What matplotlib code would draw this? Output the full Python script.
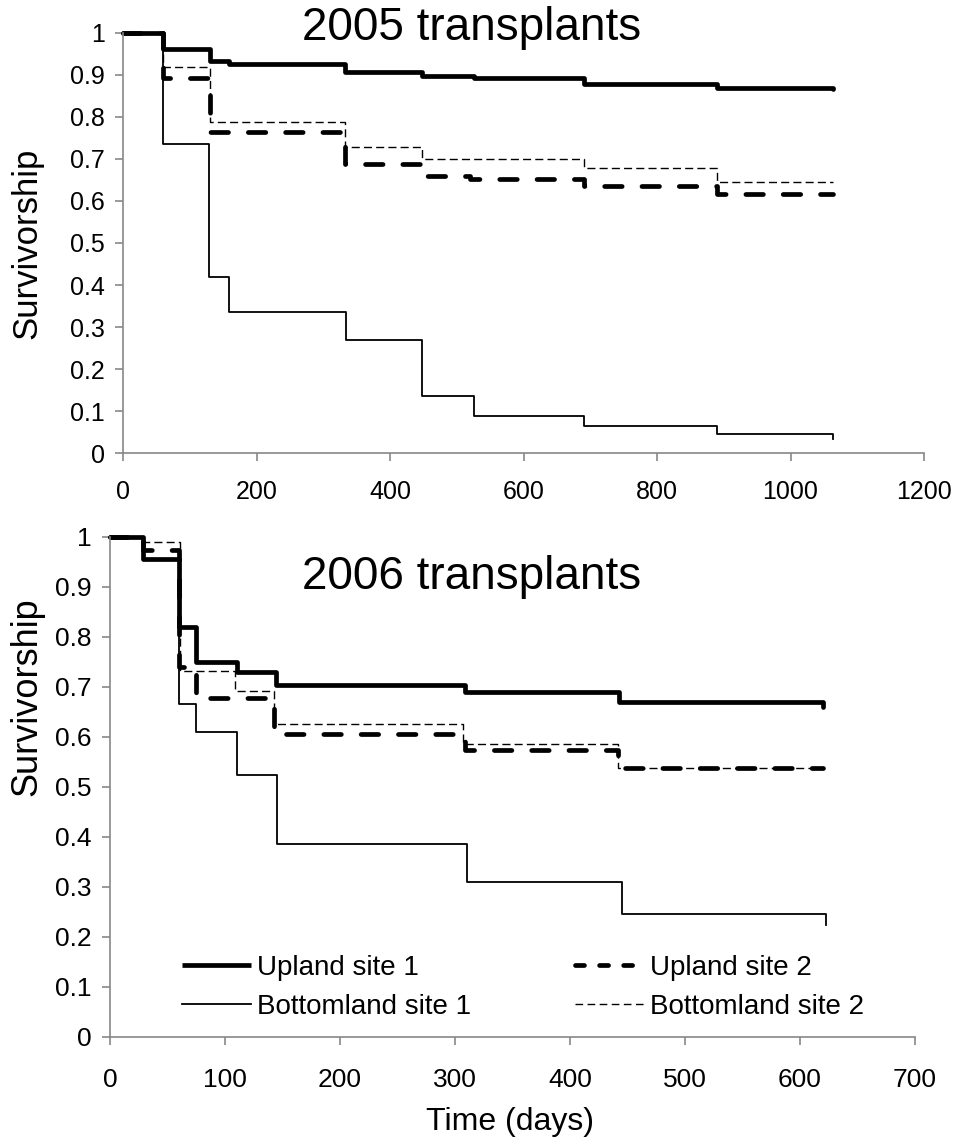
import numpy as np
import matplotlib
matplotlib.use("Agg")
import matplotlib.pyplot as plt
from matplotlib.lines import Line2D

plt.rcParams['font.family'] = ['Liberation Sans', 'DejaVu Sans']

# 2005 transplants: step times (days) and survivorship
up1_05_t = [0, 60, 130, 158, 333, 447, 525, 690, 890, 1064]
up1_05_s = [1.0, 0.961, 0.933, 0.926, 0.907, 0.898, 0.893, 0.877, 0.868, 0.865]
up2_05_t = [0, 60, 130, 333, 447, 520, 690, 890, 1064]
up2_05_s = [1.0, 0.893, 0.765, 0.688, 0.660, 0.651, 0.636, 0.616, 0.616]
bt1_05_t = [0, 60, 129, 159, 334, 448, 525, 690, 890, 1064, 1064]
bt1_05_s = [1.0, 0.735, 0.42, 0.336, 0.269, 0.136, 0.089, 0.066, 0.047, 0.047, 0.035]
bt2_05_t = [0, 60, 130, 333, 447, 690, 890, 1064]
bt2_05_s = [1.0, 0.918, 0.788, 0.728, 0.699, 0.679, 0.645, 0.645]

# 2006 transplants
up1_06_t = [0, 29, 60, 75, 110, 144, 309, 443, 620, 620]
up1_06_s = [1.0, 0.957, 0.821, 0.751, 0.731, 0.704, 0.691, 0.671, 0.671, 0.66]
up2_06_t = [0, 29, 60, 75, 143, 309, 442, 620]
up2_06_s = [1.0, 0.975, 0.74, 0.679, 0.607, 0.574, 0.539, 0.539]
bt1_06_t = [0, 29, 60, 75, 110, 145, 310, 445, 623, 623]
bt1_06_s = [1.0, 0.957, 0.667, 0.611, 0.525, 0.386, 0.31, 0.246, 0.246, 0.224]
bt2_06_t = [0, 29, 61, 109, 143, 307, 442, 620]
bt2_06_s = [1.0, 0.99, 0.732, 0.692, 0.627, 0.586, 0.539, 0.539]

labels = ["Upland site 1", "Upland site 2", "Bottomland site 1", "Bottomland site 2"]
ytick_labels = ["0", "0.1", "0.2", "0.3", "0.4", "0.5", "0.6", "0.7", "0.8", "0.9", "1"]

AXCOL = "#878787"

STYLES = [
    dict(color="black", lw=3.4, solid_capstyle="round"),
    dict(color="black", lw=3.4, dashes=(3.7, 4.2), dash_capstyle="round"),
    dict(color="black", lw=1.3),
    dict(color="black", lw=1.0, dashes=(5.8, 3.0)),
]
# the legend keys use shorter dashes than the curves
LEG_STYLES = [
    dict(color="black", lw=3.4, solid_capstyle="butt"),
    dict(color="black", lw=3.4, dashes=(1.9, 3.2), dash_capstyle="round"),
    dict(color="black", lw=1.3),
    dict(color="black", lw=1.0, dashes=(5.5, 3.2)),
]


def style_axes(ax, xmax, xstep, fs, xpad):
    ax.set_xlim(0, xmax)
    ax.set_ylim(0, 1)
    ax.set_xticks(np.arange(0, xmax + 1, xstep))
    ax.set_yticks(np.arange(0, 1.01, 0.1))
    ax.set_yticklabels(ytick_labels)
    for s in ["top", "right"]:
        ax.spines[s].set_visible(False)
    for s in ["left", "bottom"]:
        ax.spines[s].set_color(AXCOL)
        ax.spines[s].set_linewidth(1.2)
    ax.tick_params(axis="both", colors=AXCOL, labelcolor="black", labelsize=fs,
                   length=6, width=1.2, direction="out")
    ax.tick_params(axis="y", pad=7)
    ax.tick_params(axis="x", pad=xpad)


def draw(ax, series):
    for (t, s), st in zip(series, STYLES):
        ax.plot(t, s, drawstyle="steps-post", clip_on=False, **st)


fig = plt.figure(figsize=(9.58, 11.45), dpi=100)

W, H = 958.0, 1145.0
ax1 = fig.add_axes([123.3 / W, 1 - 453.3 / H, (924 - 123.3) / W, 420.6 / H])
ax2 = fig.add_axes([110 / W, 1 - 1037 / H, (915 - 110) / W, 500 / H])

draw(ax1, [(up1_05_t, up1_05_s), (up2_05_t, up2_05_s), (bt1_05_t, bt1_05_s), (bt2_05_t, bt2_05_s)])
draw(ax2, [(up1_06_t, up1_06_s), (up2_06_t, up2_06_s), (bt1_06_t, bt1_06_s), (bt2_06_t, bt2_06_s)])

style_axes(ax1, 1200, 200, 18, 13)
style_axes(ax2, 700, 100, 19, 16)

fig.text(472 / W, 1 - 28 / H, "2005 transplants", fontsize=33, ha="center", va="center")
fig.text(472 / W, 1 - 577 / H, "2006 transplants", fontsize=33, ha="center", va="center")

fig.text(27 / W, 1 - 243 / H, "Survivorship", fontsize=25, rotation=90, ha="center", va="center")
fig.text(27 / W, 1 - 697 / H, "Survivorship", fontsize=26, rotation=90, ha="center", va="center")
fig.text(510 / W, 1 - 1122 / H, "Time (days)", fontsize=23, ha="center", va="center")

proxies = [Line2D([], [], **st) for st in LEG_STYLES]

# two single-column legends, placed where the reference has its columns
leg_kw = dict(loc="upper left", bbox_transform=fig.transFigure, frameon=False,
              fontsize=20, handlelength=2.5, handletextpad=0.2,
              labelspacing=0.45, borderpad=0, borderaxespad=0)
leg1 = ax2.legend([proxies[0], proxies[2]], [labels[0], labels[2]],
                  bbox_to_anchor=(182 / W, 1 - 955 / H), **leg_kw)
ax2.add_artist(leg1)
ax2.legend([proxies[1], proxies[3]], [labels[1], labels[3]],
           bbox_to_anchor=(575 / W, 1 - 955 / H), **leg_kw)

fig.savefig("out.png", dpi=100)
